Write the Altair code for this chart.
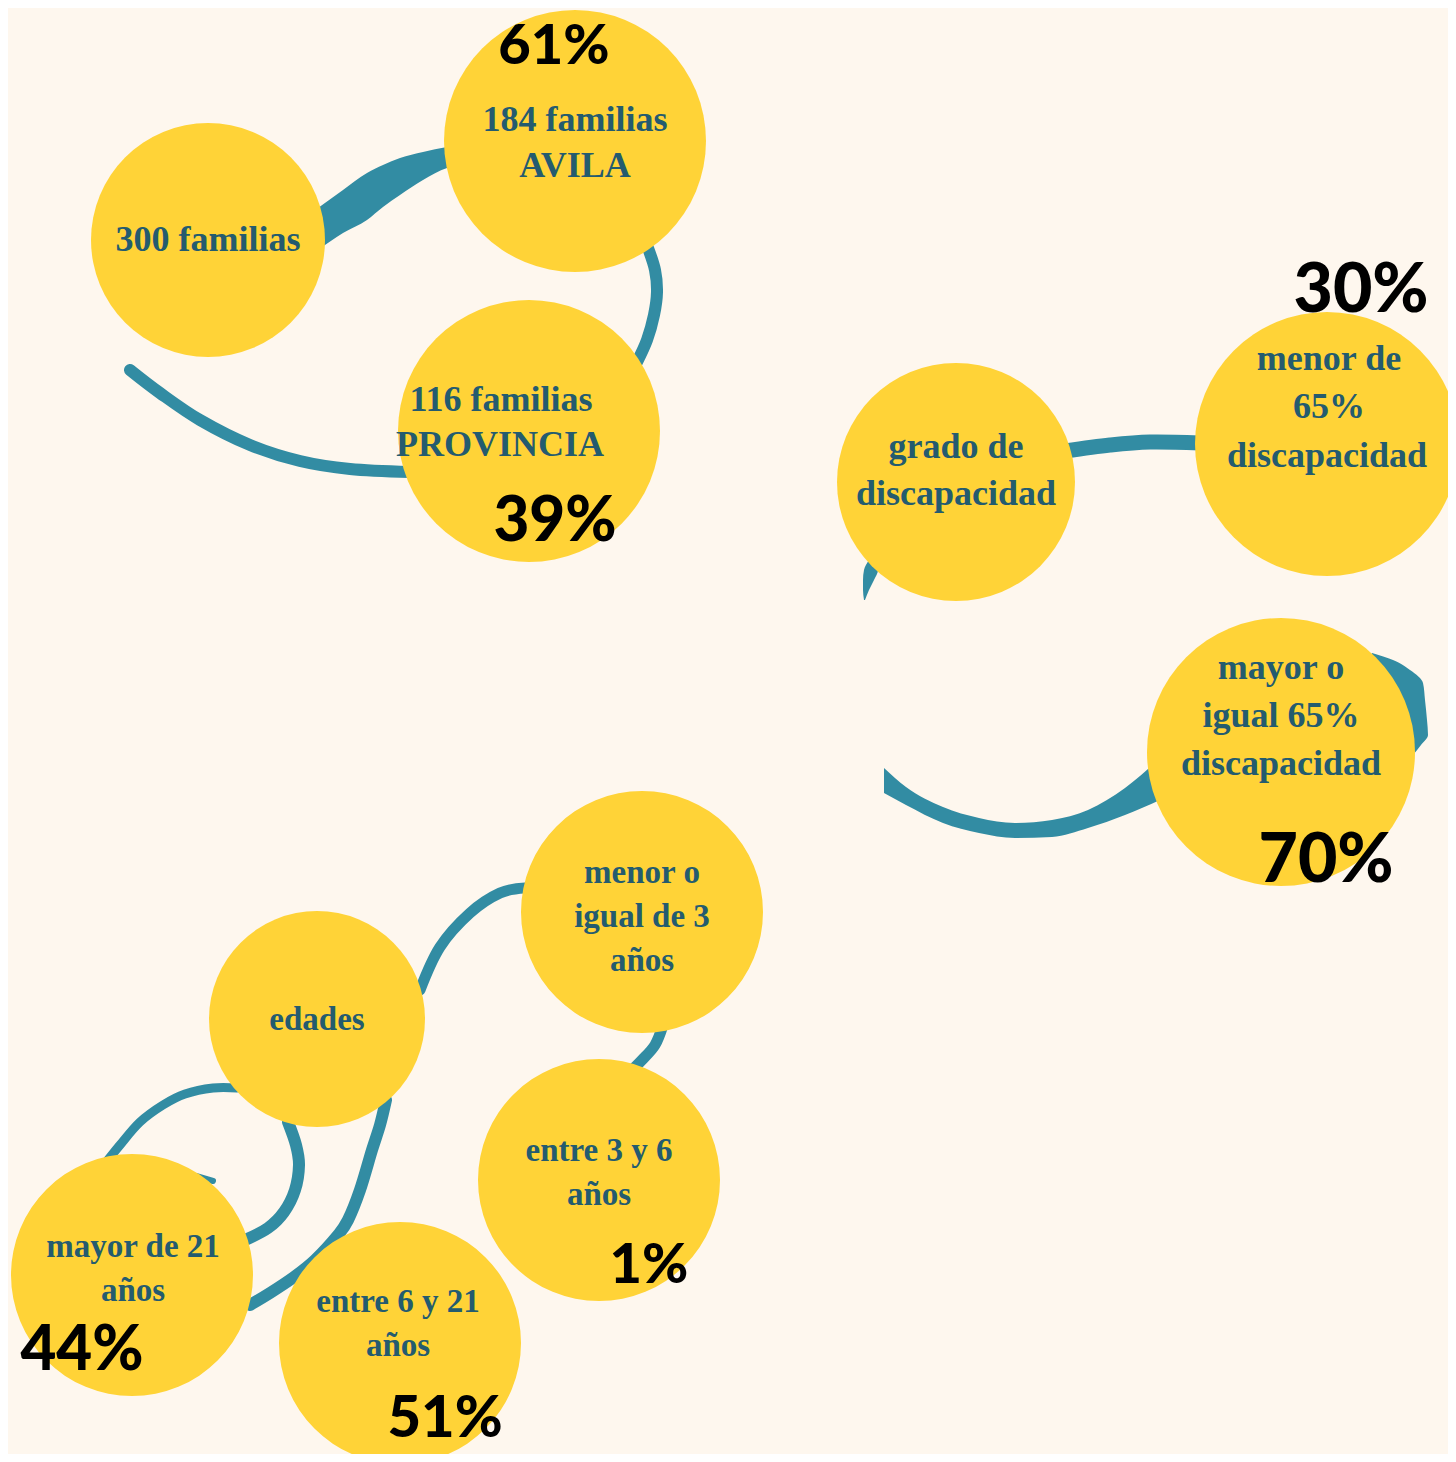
import altair as alt
import pandas as pd

# ---------------- data (page pixel coordinates) ----------------
circle_names = ["300 familias", "184 familias AVILA", "116 familias PROVINCIA",
                "grado de discapacidad", "menor de 65% discapacidad",
                "mayor o igual 65% discapacidad", "edades", "menor o igual de 3 años",
                "entre 3 y 6 años", "mayor de 21 años", "entre 6 y 21 años"]
circle_x = [208, 575, 529, 956, 1327, 1281, 317, 642, 599, 132, 400]
circle_y = [240, 141, 431, 482, 444, 752, 1019, 912, 1180, 1275, 1343]
circle_r = [117, 131, 131, 119, 132, 134, 108, 121, 121, 121, 121]

text_lines = ["300 familias", "184 familias", "AVILA", "116 familias", "PROVINCIA",
              "grado de", "discapacidad", "menor de", "65%", "discapacidad",
              "mayor o", "igual 65%", "discapacidad", "edades",
              "menor o", "igual de 3", "años", "entre 3 y 6", "años",
              "mayor de 21", "años", "entre 6 y 21", "años"]
text_x = [208, 575, 575, 501, 500, 956, 956, 1329, 1329, 1327, 1281, 1281, 1281, 317,
          642, 642, 642, 599, 599, 133, 133, 398, 398]
text_y = [240, 120, 166, 400, 445, 447, 494, 359, 407, 456, 668, 716, 764, 1020,
          873, 917, 961, 1151, 1195, 1247, 1291, 1302, 1346]
text_size = [36, 36, 36, 36, 36, 36, 36, 36, 36, 36, 36, 36, 36, 33,
             33, 33, 33, 33, 33, 33, 33, 33, 33]

pct_text = ["61%", "39%", "30%", "70%", "1%", "44%", "51%"]
pct_x = [554, 555, 1361, 1326, 649, 82, 445]
pct_y = [47, 522, 292, 862, 1266, 1351, 1420]
pct_size = [56, 62, 68, 68, 56, 62, 58]

# constant-width connector curves
curve_B_x = [648, 655, 657, 654, 647, 637]
curve_B_y = [248, 270, 292, 315, 340, 362]
curve_C_x = [130, 160, 200, 250, 300, 350, 410]
curve_C_y = [370, 393, 420, 445, 461, 469, 472]
curve_D_x = [1065, 1110, 1150, 1200]
curve_D_y = [451, 445, 442, 443]
curve_G_x = [420, 440, 470, 500, 525]
curve_G_y = [990, 947, 913, 893, 888]
curve_H_x = [663, 655, 642, 632]
curve_H_y = [1025, 1045, 1060, 1070]
curve_I_x = [237, 213, 185, 163, 140, 120, 104]
curve_I_y = [1088, 1088, 1094, 1105, 1122, 1145, 1165]
curve_J_x = [288, 296, 299, 295, 284, 268, 245]
curve_J_y = [1122, 1145, 1165, 1190, 1212, 1228, 1240]
curve_K_x = [386, 380, 372, 360, 348, 338, 315, 294, 270, 250]
curve_K_y = [1100, 1125, 1150, 1190, 1220, 1235, 1260, 1277, 1293, 1305]
curve_L_x = [196, 213]
curve_L_y = [1176, 1181]
curve_widths = {"B": 12, "C": 12, "D": 15, "G": 11, "H": 11, "I": 9, "J": 12, "K": 12, "L": 6}

# tapered ribbons (upper/lower edges)
ribbon_A_x = [318, 343, 367, 383, 400, 423, 447, 460]
ribbon_A_top = [208, 190, 173, 165, 158, 152, 147, 145]
ribbon_A_bot = [250, 233, 220, 207, 195, 180, 168, 165]
ribbon_F_x = [884, 906, 943, 979, 1015, 1052, 1088, 1125, 1160]
ribbon_F_top = [768, 787, 807, 818, 823, 820, 810, 788, 758]
ribbon_F_bot = [793, 805, 823, 833, 838, 837, 828, 815, 800]
# vertical-oriented ribbons (left/right edges by y)
ribbon_R_y = [653, 660, 670, 683, 700, 720, 735, 745, 755]
ribbon_R_in = [1372, 1370, 1378, 1388, 1396, 1402, 1405, 1406, 1406]
ribbon_R_out = [1372, 1393, 1410, 1423, 1425, 1427, 1428, 1421, 1413]
ribbon_E_y = [560, 570, 580, 590, 600]
ribbon_E_in = [869, 864, 863, 863, 864]
ribbon_E_out = [878, 878, 874, 869, 865]

BG = "#FEF7EE"
YELLOW = "#FFD337"
TEAL = "#328CA3"
DARK = "#245B6F"

# ---------------- build tables ----------------
xs = alt.Scale(domain=[8, 1448], nice=False, zero=False)
ys = alt.Scale(domain=[8, 1454], nice=False, zero=False, reverse=True)

curves = {"B": (curve_B_x, curve_B_y), "C": (curve_C_x, curve_C_y), "D": (curve_D_x, curve_D_y),
          "G": (curve_G_x, curve_G_y), "H": (curve_H_x, curve_H_y), "I": (curve_I_x, curve_I_y),
          "J": (curve_J_x, curve_J_y), "K": (curve_K_x, curve_K_y), "L": (curve_L_x, curve_L_y)}
rows = []
for k, (cx, cy) in curves.items():
    for i, (a, b) in enumerate(zip(cx, cy)):
        rows.append({"curve": k, "i": i, "x": a, "y": b, "w": curve_widths[k]})
curve_df = pd.DataFrame(rows)

lines = alt.Chart(curve_df).mark_line(color=TEAL, interpolate="cardinal", strokeCap="round").encode(
    x=alt.X("x:Q", scale=xs, axis=None),
    y=alt.Y("y:Q", scale=ys, axis=None),
    detail="curve:N",
    order="i:Q",
    strokeWidth=alt.StrokeWidth("w:Q", scale=None, legend=None),
)

def hribbon(xv, top, bot):
    df = pd.DataFrame({"x": xv, "top": top, "bot": bot})
    return alt.Chart(df).mark_area(color=TEAL, interpolate="monotone").encode(
        x=alt.X("x:Q", scale=xs, axis=None),
        y=alt.Y("top:Q", scale=ys, axis=None),
        y2="bot:Q",
    )

def vribbon(yv, xin, xout):
    df = pd.DataFrame({"y": yv, "xi": xin, "xo": xout})
    return alt.Chart(df).mark_area(color=TEAL, interpolate="monotone", orient="horizontal").encode(
        y=alt.Y("y:Q", scale=ys, axis=None),
        x=alt.X("xi:Q", scale=xs, axis=None),
        x2="xo:Q",
    )

ribbons = [hribbon(ribbon_A_x, ribbon_A_top, ribbon_A_bot),
           hribbon(ribbon_F_x, ribbon_F_top, ribbon_F_bot),
           vribbon(ribbon_R_y, ribbon_R_in, ribbon_R_out),
           vribbon(ribbon_E_y, ribbon_E_in, ribbon_E_out)]

# Vega symbol size is the area of the bounding square: (2r)^2
circ_df = pd.DataFrame({"name": circle_names, "x": circle_x, "y": circle_y,
                        "area": [4 * r * r for r in circle_r]})
circles = alt.Chart(circ_df).mark_circle(color=YELLOW, opacity=1).encode(
    x=alt.X("x:Q", scale=xs, axis=None),
    y=alt.Y("y:Q", scale=ys, axis=None),
    size=alt.Size("area:Q", scale=None, legend=None),
)

txt_df = pd.DataFrame({"t": text_lines, "x": text_x, "y": text_y, "s": text_size})
labels = alt.Chart(txt_df).mark_text(font="Liberation Serif", fontWeight="bold", color=DARK,
                                     align="center", baseline="middle").encode(
    x=alt.X("x:Q", scale=xs, axis=None),
    y=alt.Y("y:Q", scale=ys, axis=None),
    text="t:N",
    size=alt.Size("s:Q", scale=None, legend=None),
)

pct_df = pd.DataFrame({"t": pct_text, "x": pct_x, "y": pct_y, "s": pct_size})
pcts = alt.Chart(pct_df).mark_text(font="Lato", fontWeight=900, color="#000000",
                                   align="center", baseline="middle").encode(
    x=alt.X("x:Q", scale=xs, axis=None),
    y=alt.Y("y:Q", scale=ys, axis=None),
    text="t:N",
    size=alt.Size("s:Q", scale=None, legend=None),
)

chart = alt.layer(lines, *ribbons, circles, labels, pcts).properties(
    width=1440, height=1446, background=BG, padding=0,
    autosize=alt.AutoSizeParams(type="none"),
).configure_view(stroke=None)

chart.save("out.html", embed_options={"renderer": "svg", "actions": False})
